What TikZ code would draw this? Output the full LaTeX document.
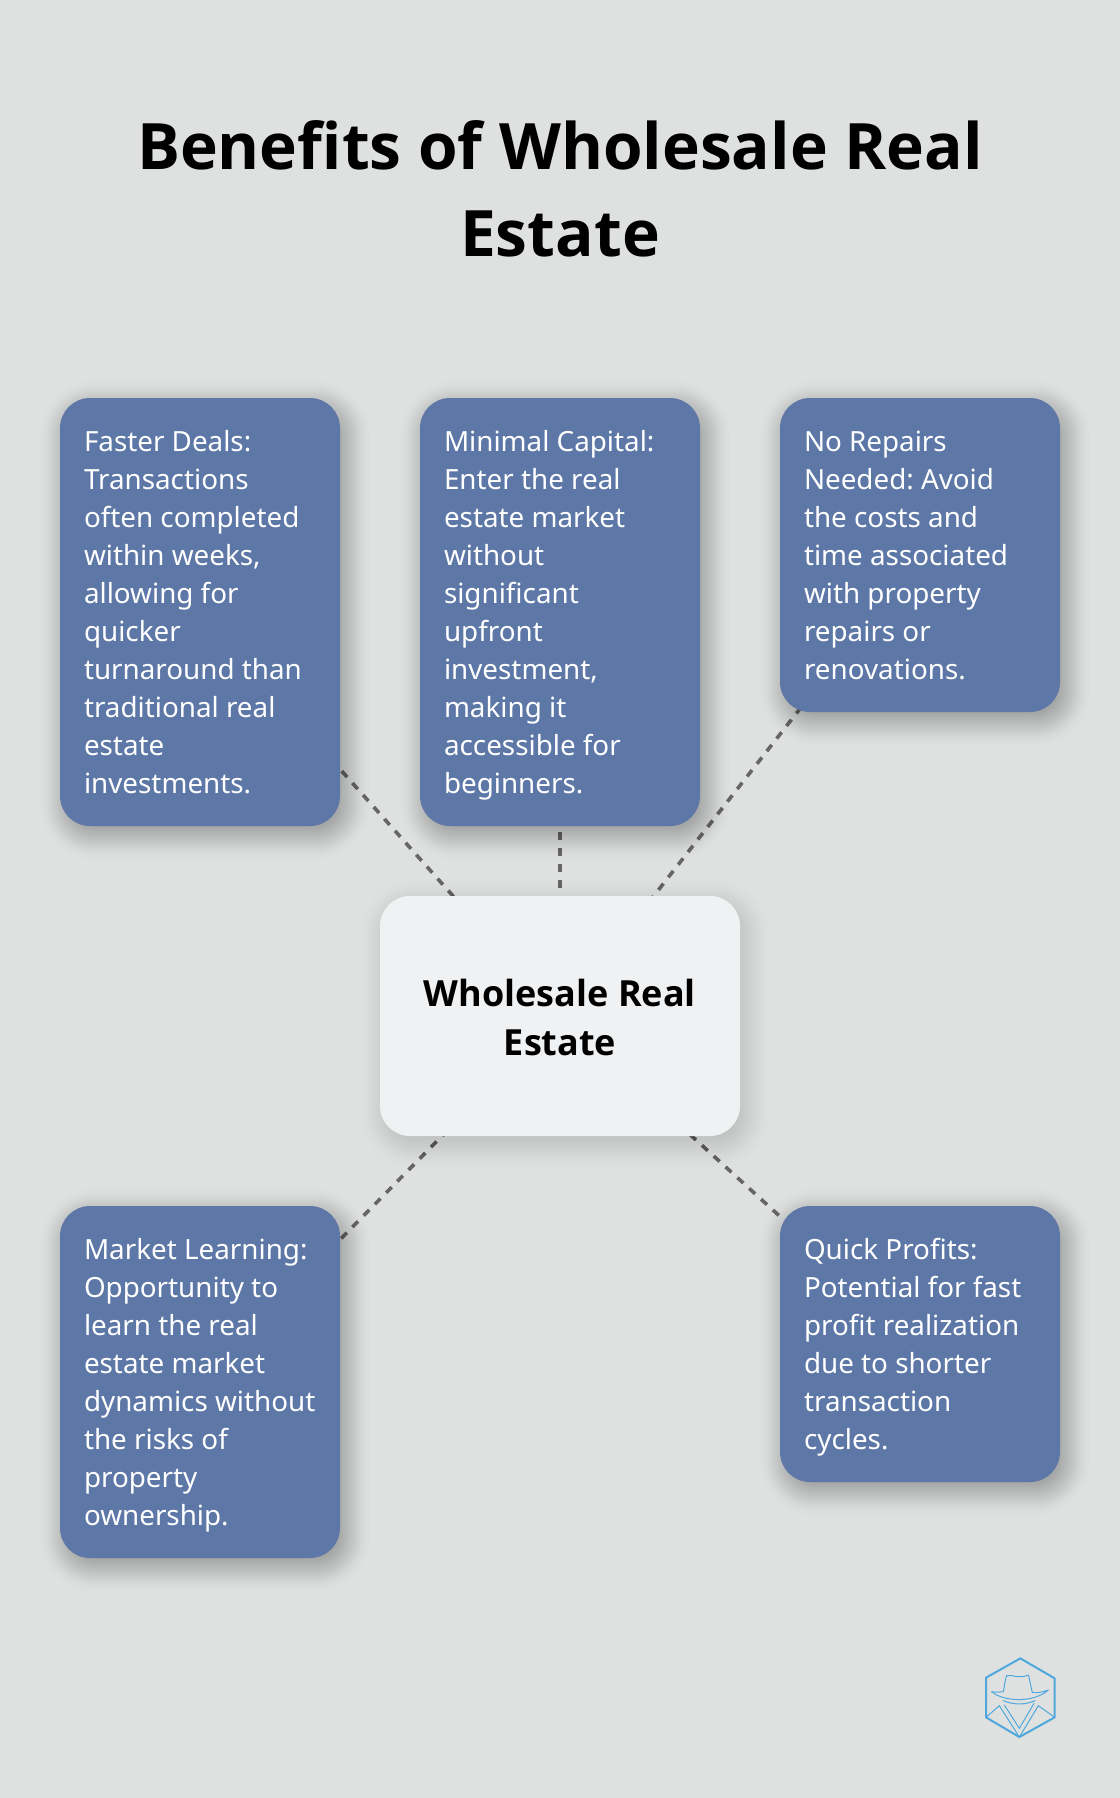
\documentclass[tikz,border=0pt]{standalone}
\usepackage{fontspec}
\setmainfont{Noto Sans}
\newfontfamily\headfont{Open Sans}
\definecolor{bgc}{HTML}{DFE1E0}
\definecolor{boxc}{HTML}{5D77A7}
\definecolor{midc}{HTML}{EFF1F3}
\definecolor{linec}{HTML}{666666}
\definecolor{iconc}{HTML}{4FA8DC}
\pgfdeclarelayer{paper}
\pgfdeclarelayer{lines}
\pgfdeclarelayer{shadows}
\pgfsetlayers{paper,lines,shadows,main}
\newcommand{\softshadow}[5]{%
  \begin{pgfonlayer}{shadows}
  \foreach \i in {-16,-13,-11,-9.5,-8,-7,-6,-5,-4,-3,-2,-1,0,1,2,3,4,5,6,7,8,9,10,11,12,13,14,15,16,17,18.5,20,22,25}{
    \fill[black,opacity=#5,rounded corners={max(30+\i,2)*0.75pt}]
      ({#1-\i+5},{#2-\i+8}) rectangle ({#3+\i+5},{#4+\i+8});
  }
  \end{pgfonlayer}}
\tikzset{
  x=0.75pt,y=-0.75pt,
  card/.style={fill=boxc,rounded corners=22.5pt,text=white,inner sep=0pt,
    minimum width=210pt,text width=174pt,align=left,
    execute at begin node={\spaceskip=.26em\relax\rule{0pt}{22.3pt}},
    execute at end node={\rule[-6.1pt]{0pt}{6.1pt}},
    font=\fontsize{20.85pt}{28.5pt}\selectfont\frenchspacing},
  hub/.style={fill=midc,rounded corners=22.5pt,text=black,inner sep=0pt,
    minimum width=270pt,minimum height=180pt,text width=240pt,align=center,
    execute at begin node={\spaceskip=.26em\relax\rule{0pt}{22.5pt}},
    font=\headfont\fontsize{27pt}{36.45pt}\selectfont\bfseries},
  titletext/.style={text=black,inner sep=0pt,align=center,text width=780pt,
    execute at begin node={\spaceskip=.26em\relax},
    font=\headfont\fontsize{48pt}{64.8pt}\selectfont\bfseries},
  link/.style={draw=linec,line width=2.7pt,dash pattern=on 6pt off 6pt},
  iconline/.style={draw=iconc,line width=0.75pt,line join=round,line cap=round}
}
\begin{document}
\begin{tikzpicture}
\useasboundingbox (0,0) rectangle (1120,1798);
\begin{pgfonlayer}{paper}
\fill[bgc] (0,0) rectangle (1120,1798);
\end{pgfonlayer}
\node[titletext] (title) at (560,189) {Benefits of Wholesale Real\\Estate};

\softshadow{60}{398}{340}{826}{0.0075}
\softshadow{420}{398}{700}{826}{0.0075}
\softshadow{780}{398}{1060}{712}{0.0075}
\softshadow{60}{1206}{340}{1558}{0.0075}
\softshadow{780}{1206}{1060}{1482}{0.0075}
\softshadow{380}{896}{740}{1136}{0.005}

\node[card,minimum height=321pt] (faster) at (200,612) {Faster Deals:\\Transactions\\often completed\\within weeks,\\allowing for\\quicker\\turnaround than\\traditional real\\estate\\investments.};
\node[card,minimum height=321pt] (capital) at (560,612) {Minimal Capital:\\Enter the real\\estate market\\without\\significant\\upfront\\investment,\\making it\\accessible for\\beginners.};
\node[card,minimum height=235.5pt] (repairs) at (920,555) {No Repairs\\Needed: Avoid\\the costs and\\time associated\\with property\\repairs or\\renovations.};
\node[card,minimum height=264pt] (learning) at (200,1382) {Market Learning:\\Opportunity to\\learn the real\\estate market\\\mbox{dynamics without}\\the risks of\\property\\ownership.};
\node[card,minimum height=207pt] (profits) at (920,1344) {Quick Profits:\\Potential for fast\\profit realization\\due to shorter\\transaction\\cycles.};
\node[hub] (hub) at (560,1016) {Wholesale Real\\Estate};

\begin{pgfonlayer}{lines}
\draw[link] (hub.center) -- (faster.center);
\draw[link] (hub.center) -- (capital.center);
\draw[link] (hub.center) -- (repairs.center);
\draw[link] (hub.center) -- (learning.center);
\draw[link] (hub.center) -- (profits.center);
\end{pgfonlayer}

\begin{scope}[shift={(960,1640)},x=0.25pt,y=-0.25pt]
\draw[iconline,line width=1.5pt] (181,55) -- (284,115) -- (284,232) -- (178,291) -- (78,232) -- (78,113) -- cycle;
\draw[iconline] (130,155) .. controls (134,135) and (136,115) .. (140,107) .. controls (155,102) and (175,118) .. (205,105) .. controls (210,120) and (212,140) .. (217,157);
\draw[iconline] (95,155) .. controls (130,185) and (220,190) .. (265,150) .. controls (245,157) and (230,160) .. (217,157);
\draw[iconline] (95,155) .. controls (110,157) and (120,157) .. (130,155);
\draw[iconline] (130,182) .. controls (160,195) and (195,195) .. (225,182);
\draw[iconline] (78,232) -- (118,197) -- (178,291) -- (235,197) -- (284,232);
\draw[iconline] (133,195) -- (178,265) -- (222,190);
\end{scope}
\end{tikzpicture}
\end{document}
